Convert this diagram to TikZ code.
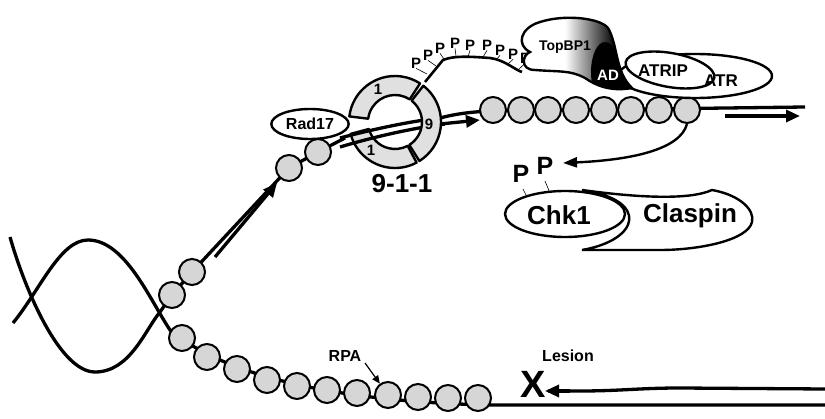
\documentclass[tikz,border=0pt]{standalone}
\usepackage{fontspec}
\setmainfont{Liberation Sans}
\usetikzlibrary{arrows.meta,shapes.geometric}
\begin{document}
\begin{tikzpicture}[x=1pt,y=-1pt,
  strand/.style={line width=3.3pt},
  rpa/.style={circle,draw,line width=2pt,fill=black!16,minimum size=26pt,inner sep=0pt},
  big/.style={font=\bfseries\fontsize{26}{26}\selectfont},
  lab/.style={font=\bfseries\fontsize{16}{16}\selectfont},
  ps/.style={font=\bfseries\fontsize{15}{15}\selectfont,inner sep=0pt},
  pb/.style={font=\bfseries\fontsize{25}{25}\selectfont,inner sep=0pt},
  ring/.style={draw,line width=2.4pt,fill=black!12,line join=round},
  arr/.style={line width=3.3pt,-{Triangle[length=14pt,width=12pt]}},
  prot/.style={draw,line width=2.4pt,fill=white}]
\useasboundingbox (0,0) rectangle (825,419);
% helix
\draw[strand] (10,237) .. controls (25,290) and (60,372) .. (95,372) .. controls (130,372) and (145,330) .. (160,312) -- (172,295);
\draw[strand] (13,323) .. controls (40,290) and (60,240) .. (88,240) .. controls (125,240) and (150,300) .. (170,330) .. controls (230,380) and (350,402) .. (490,405) -- (825,405);
% lesion strand
\draw[strand] (825,389) -- (680,388) .. controls (640,388) and (620,391) .. (580,391) -- (548,391);
\draw[arr] (570,391) -- (545,391);
\node[font=\bfseries\fontsize{38}{38}\selectfont,inner sep=0pt] (x) at (533,384) {X};
\node[lab] (lesion) at (568,356) {Lesion};
% RPA lower
\foreach \i/\p in {1/{(182,338)},2/{(207,357)},3/{(237,369)},4/{(267,380)},5/{(297,386)},6/{(327,390)},7/{(357,393)},8/{(388,395)},9/{(418,397)},10/{(448,398)},11/{(478,398)}}
  \node[rpa] (l\i) at \p {};
\node[lab] (rpa) at (345,356) {RPA};
\draw[line width=1.2pt,-{Triangle[length=8pt,width=7pt]}] (365,363) -- (l8);
% upper strand
\coordinate (a1c) at (172,295);
\coordinate (a2c) at (192,272);
\coordinate (a3c) at (289,168);
\coordinate (a4c) at (318,152);
\draw[strand] (a1c) -- (a2c) -- (a3c) -- (a4c) -- (345,138);
\draw[strand] (440,118) .. controls (455,114) and (470,112) .. (490,111) -- (805,107);
\node[rpa] (a1) at (a1c) {};
\node[rpa] (a2) at (a2c) {};
\node[rpa] (a3) at (a3c) {};
\node[rpa] (a4) at (a4c) {};
\draw[arr] (215,257) -- (277,183);
% 9-1-1 ring (back part)
\begin{scope}[shift={(395,122)}]
\draw[ring] (187:46) arc[start angle=187,end angle=303,radius=46] -- (303:27) arc[start angle=303,end angle=187,radius=27] -- cycle;
\draw[ring] (62:46) arc[start angle=62,end angle=165,radius=46] -- (165:27) arc[start angle=165,end angle=62,radius=27] -- cycle;
\end{scope}
\node[font=\bfseries\fontsize{15}{15}\selectfont] (s1) at (378,89) {1};
\node[font=\bfseries\fontsize{15}{15}\selectfont] (s2) at (371,150) {1};
\node[big] (nine) at (402,184) {9-1-1};
% strands through ring
\draw[strand] (340,138) .. controls (370,130) and (415,120) .. (442,118);
\draw[strand] (340,147) .. controls (380,135) and (420,127) .. (445,124);
\draw[arr] (440,124) -- (480,120);
% ring front segment
\begin{scope}[shift={(395,122)}]
\draw[ring] (-52:46) arc[start angle=-52,end angle=58,radius=46] -- (58:27) arc[start angle=58,end angle=-52,radius=27] -- cycle;
\end{scope}
\node[font=\bfseries\fontsize{15}{15}\selectfont] (s9) at (429,124) {9};
% Rad17
\node[prot,ellipse,minimum width=76pt,minimum height=30pt,lab] (rad) at (310,124) {Rad17};
% upper RPA
\foreach \i/\x in {1/493,2/521,3/548,4/576,5/604,6/631,7/659,8/687}
  \node[rpa] (c\i) at (\x,110) {};
\draw[arr] (725,116) -- (800,116);
% phospho chain
\draw[line width=2.6pt] (425,82) -- (443,60) .. controls (455,55) and (475,57) .. (490,58) .. controls (505,60) and (515,70) .. (522,72);
\foreach \n/\a/\b in {p1/{(416,63)}/{(427,74)},p2/{(428,55)}/{(436,66)},p3/{(440,48)}/{(444,59)},p4/{(455,43)}/{(456,56)},p5/{(470,45)}/{(468,57)},p6/{(487,45)}/{(483,57)},p7/{(500,50)}/{(496,60)},p8/{(513,54)}/{(508,64)},p9/{(525,58)}/{(519,69)}}
  {\node[ps] (\n) at \a {P}; \draw[line width=0.6pt] (\n.south) -- \b;}
% ATR
\draw[prot] (695,76) ellipse[x radius=77,y radius=22];
% TopBP1
\def\blob{(535,70) .. controls (520,70) and (522,55) .. (530,52) .. controls (516,45) and (520,28) .. (540,22) .. controls (565,14) and (600,18) .. (608,28) .. controls (618,45) and (615,72) .. (632,88) .. controls (610,92) and (595,85) .. (585,78) .. controls (570,70) and (560,72) .. (535,70) -- cycle}
\fill[white] \blob;
\begin{scope}
\clip \blob;
\shade[left color=white,right color=black] (565,10) rectangle (615,100);
\fill[black] (615,10) rectangle (640,100);
\fill[black] (605,72) ellipse[x radius=14,y radius=30];
\end{scope}
\draw[line width=2.4pt] \blob;
\node[font=\bfseries\fontsize{14}{14}\selectfont] (top) at (565,47) {TopBP1};
% ATRIP
\draw[prot,rotate around={-10:(670,70)}] (670,70) ellipse[x radius=45,y radius=17];
\node[font=\bfseries\fontsize{17}{17}\selectfont] (atrip) at (663,71) {ATRIP};
\node[font=\bfseries\fontsize{17}{17}\selectfont] (atr) at (721,81) {ATR};
\node[font=\bfseries\fontsize{15}{15}\selectfont,text=white,inner sep=0pt] (ad) at (608,75) {AD};
% curved arrow
\draw[line width=2.4pt,-{Triangle[length=14pt,width=10pt]}] (c8.south) .. controls (680,150) and (630,160) .. (563,163);
% Claspin & Chk1
\draw[prot] (582,190) .. controls (640,198) and (690,200) .. (712,190) .. controls (740,195) and (755,210) .. (752,222) .. controls (748,240) and (700,250) .. (660,250) -- (582,250) .. controls (640,240) and (650,200) .. (582,190) -- cycle;
\node[prot,ellipse,minimum width=120pt,minimum height=46pt] (chk) at (565,214) {};
\node[big] (chkt) at (559,215) {Chk1};
\node[big] (clt) at (690,216) {Claspin};
\node[pb] (pp1) at (521,174) {P};
\node[pb] (pp2) at (545,166) {P};
\draw[line width=0.6pt] (523,189) -- (527,197);
\draw[line width=0.6pt] (545,181) -- (550,193);
\end{tikzpicture}
\end{document}
